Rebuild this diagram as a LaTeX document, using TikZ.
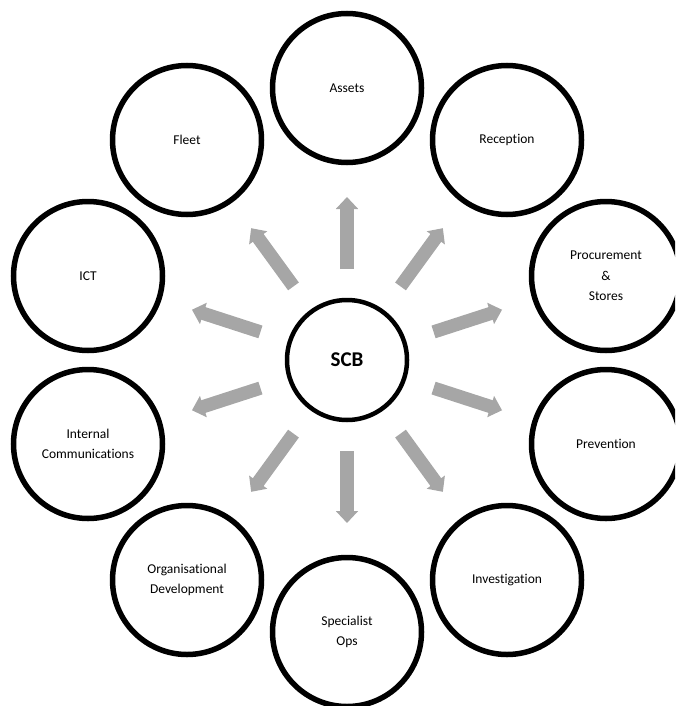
\documentclass[tikz,border=0pt]{standalone}
\usepackage{fontspec}
\setmainfont[Ligatures=NoCommon]{Carlito}
\usetikzlibrary{arrows.meta,calc}
\definecolor{arrowgray}{RGB}{166,166,166}
\tikzset{
  unit/.style={circle, draw=black, line width=5.5pt, minimum size=149pt, inner sep=0pt,
    align=center, font=\fontsize{13.5}{20.5}\selectfont},
  hub/.style={circle, draw=black, line width=4.5pt, minimum size=120pt, inner sep=0pt,
    font=\fontsize{21}{24}\selectfont\bfseries},
  blockarrow/.style={draw=arrowgray, line width=13.3pt,
    -{Triangle[width=21.7pt,length=12pt]}, arrowgray},
}
\begin{document}
\begin{tikzpicture}[x=1pt,y=-1pt]
\useasboundingbox (0,0) rectangle (675,706);
\clip (0,0) rectangle (675,706);
\node[hub] (scb) at (347,360) {SCB};
\node[unit] (assets) at (347,88) {Assets};
\node[unit] (reception) at (507,140) {Reception};
\node[unit] (procurement) at (606,276) {Procurement\\\&\\Stores};
\node[unit] (prevention) at (606,444) {Prevention};
\node[unit] (investigation) at (507,580) {Investigation};
\node[unit] (specialist) at (347,632) {Specialist\\Ops};
\node[unit] (orgdev) at (187,580) {Organisational\\Development};
\node[unit] (internal) at (88,444) {Internal\\Communications};
\node[unit] (ict) at (88,276) {ICT};
\node[unit] (fleet) at (187,140) {Fleet};
\foreach \t in {assets,reception,procurement,prevention,investigation,specialist,orgdev,internal,ict,fleet}{
  \draw[blockarrow] ($(scb.center)!91pt!(\t.center)$) -- ($(scb.center)!163pt!(\t.center)$);
}
\end{tikzpicture}
\end{document}
